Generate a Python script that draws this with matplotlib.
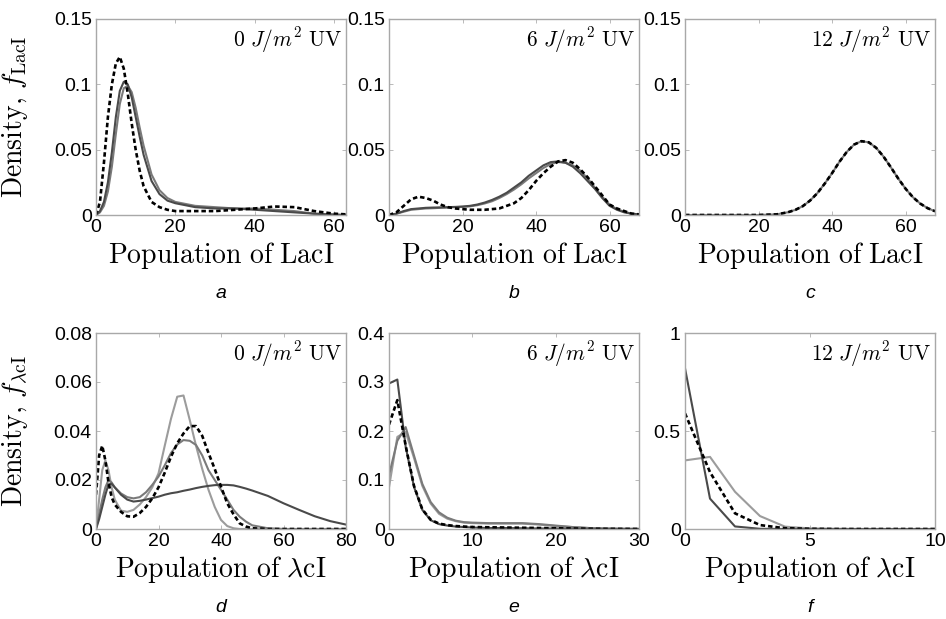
import matplotlib
matplotlib.use("Agg")
import matplotlib.pyplot as plt

plt.rcParams['mathtext.fontset'] = 'cm'
plt.rcParams['font.family'] = ['Liberation Sans', 'DejaVu Sans']

# --- panel a: LacI, 0 J/m2 UV
x_a = [0, 1, 2, 3, 4, 5, 6, 7, 8, 9, 10, 11, 12, 14, 16, 18, 20, 25, 30, 35, 40, 45, 50, 55, 60, 63]
a_dash = [0, 0.01, 0.04, 0.075, 0.1, 0.116, 0.121, 0.112, 0.093, 0.07, 0.05, 0.034, 0.022, 0.01,
          0.006, 0.004, 0.003, 0.003, 0.003, 0.004, 0.005, 0.0065, 0.006, 0.003, 0.001, 0.0005]
a_gray1 = [0, 0.003, 0.01, 0.025, 0.048, 0.075, 0.095, 0.102, 0.1, 0.09, 0.075, 0.06, 0.046, 0.026,
           0.016, 0.011, 0.009, 0.006, 0.005, 0.005, 0.004, 0.003, 0.002, 0.001, 0.0003, 0]
a_gray2 = [0, 0.002, 0.007, 0.018, 0.037, 0.062, 0.085, 0.097, 0.099, 0.094, 0.082, 0.067, 0.053, 0.031,
           0.019, 0.013, 0.01, 0.007, 0.006, 0.005, 0.005, 0.004, 0.003, 0.001, 0.0003, 0]

# --- panel b: LacI, 6 J/m2 UV
x_b = [0, 2, 4, 6, 8, 10, 12, 14, 16, 18, 20, 22, 24, 26, 28, 30, 32, 34, 36, 38, 40, 42, 44, 46, 48,
       50, 52, 54, 56, 58, 60, 62, 64, 66, 68]
b_dash = [0, 0.002, 0.007, 0.012, 0.014, 0.013, 0.011, 0.008, 0.006, 0.005, 0.0045, 0.004, 0.004, 0.004,
          0.0045, 0.005, 0.007, 0.009, 0.013, 0.019, 0.026, 0.032, 0.037, 0.041, 0.042, 0.040, 0.035,
          0.029, 0.022, 0.015, 0.008, 0.005, 0.003, 0.001, 0.0005]
b_gray1 = [0, 0.001, 0.003, 0.0045, 0.005, 0.0055, 0.0057, 0.0058, 0.006, 0.0062, 0.0065, 0.007, 0.008,
           0.0095, 0.0115, 0.014, 0.017, 0.021, 0.025, 0.030, 0.034, 0.038, 0.0405, 0.041, 0.040, 0.037,
           0.032, 0.026, 0.020, 0.013, 0.007, 0.004, 0.002, 0.001, 0.0005]
b_gray2 = [0, 0.001, 0.0025, 0.004, 0.0045, 0.005, 0.0052, 0.0055, 0.0057, 0.006, 0.0062, 0.0066, 0.0075,
           0.0088, 0.0105, 0.013, 0.016, 0.0195, 0.0235, 0.028, 0.032, 0.036, 0.039, 0.0405, 0.040, 0.038,
           0.034, 0.028, 0.021, 0.014, 0.008, 0.0045, 0.0025, 0.001, 0.0005]

# --- panel c: LacI, 12 J/m2 UV
x_c = [0, 10, 20, 25, 28, 30, 32, 34, 36, 38, 40, 42, 44, 46, 48, 50, 52, 54, 56, 58, 60, 62, 64, 66, 68]
c_dash = [0, 0, 0, 0.0005, 0.0021, 0.0039, 0.0067, 0.011, 0.0167, 0.024, 0.032, 0.0407, 0.0483, 0.0539,
          0.0565, 0.0556, 0.0514, 0.0447, 0.0365, 0.0279, 0.0201, 0.0136, 0.0087, 0.0052, 0.0029]
c_gray = c_dash

# --- panel d: lambda cI, 0 J/m2 UV
x_d = [0, 1, 2, 3, 4, 5, 6, 8, 10, 12, 14, 16, 18, 20, 22, 24, 26, 28, 30, 32, 34, 36, 38, 40, 42, 44,
       46, 48, 50, 55, 60, 65, 70, 75, 80]
d_dash = [0.014, 0.030, 0.034, 0.028, 0.019, 0.013, 0.010, 0.007, 0.0052, 0.005, 0.0065, 0.009, 0.0125,
          0.017, 0.023, 0.0295, 0.035, 0.039, 0.042, 0.042, 0.038, 0.031, 0.0245, 0.0173, 0.0105, 0.006,
          0.0023, 0.001, 0.0003, 0, 0, 0, 0, 0, 0]
d_light = [0, 0.012, 0.024, 0.028, 0.024, 0.017, 0.012, 0.0075, 0.007, 0.0078, 0.010, 0.013, 0.017,
           0.0227, 0.034, 0.045, 0.054, 0.0545, 0.0445, 0.034, 0.0245, 0.016, 0.009, 0.0037, 0.0012,
           0.0003, 0, 0, 0, 0, 0, 0, 0, 0, 0]
d_medium = [0, 0.006, 0.012, 0.017, 0.020, 0.019, 0.017, 0.0145, 0.013, 0.0125, 0.013, 0.015, 0.018,
            0.0214, 0.026, 0.031, 0.0345, 0.0363, 0.036, 0.0343, 0.030, 0.024, 0.020, 0.016, 0.012,
            0.0078, 0.005, 0.003, 0.0015, 0.0003, 0, 0, 0, 0, 0]
d_dark = [0, 0.004, 0.009, 0.014, 0.0182, 0.0185, 0.017, 0.014, 0.012, 0.0112, 0.0115, 0.012, 0.0126,
          0.0132, 0.014, 0.0146, 0.015, 0.0156, 0.0161, 0.0167, 0.0172, 0.0176, 0.0179, 0.018, 0.018,
          0.0178, 0.0172, 0.0165, 0.0157, 0.0135, 0.0105, 0.0078, 0.0052, 0.0032, 0.0018]

# --- panel e: lambda cI, 6 J/m2 UV
x_e = [0, 1, 2, 3, 4, 5, 6, 7, 8, 9, 10, 12, 14, 16, 18, 20, 22, 24, 26, 28, 30]
e_dark = [0.297, 0.305, 0.168, 0.086, 0.039, 0.018, 0.010, 0.007, 0.005, 0.004, 0.003, 0.002, 0.002,
          0.0015, 0.001, 0.001, 0.0005, 0, 0, 0, 0]
e_dash = [0.213, 0.263, 0.17, 0.088, 0.040, 0.019, 0.011, 0.008, 0.006, 0.005, 0.004, 0.0035, 0.003,
          0.0025, 0.002, 0.0015, 0.001, 0.0005, 0.0003, 0.0002, 0.0001]
e_light = [0.085, 0.188, 0.198, 0.145, 0.088, 0.052, 0.031, 0.021, 0.016, 0.013, 0.012, 0.011, 0.011,
           0.011, 0.009, 0.006, 0.004, 0.002, 0.001, 0.0005, 0.0002]
e_medium = [0.11, 0.18, 0.208, 0.15, 0.092, 0.055, 0.034, 0.023, 0.017, 0.014, 0.013, 0.012, 0.012,
            0.012, 0.010, 0.007, 0.004, 0.002, 0.001, 0.0005, 0.0002]

# --- panel f: lambda cI, 12 J/m2 UV
x_f = [0, 1, 2, 3, 4, 5, 6, 7, 8, 9, 10]
f_dark = [0.82, 0.155, 0.013, 0.001, 0, 0, 0, 0, 0, 0, 0]
f_dash = [0.59, 0.29, 0.08, 0.02, 0.004, 0.001, 0, 0, 0, 0, 0]
f_light = [0.35, 0.368, 0.19, 0.066, 0.012, 0.003, 0.001, 0, 0, 0, 0]

uv_doses = ['0', '6', '12']
letters = ['a', 'b', 'c', 'd', 'e', 'f']

LIGHT = '#9c9c9c'
MEDIUM = '#7a7a7a'
DARK = '#4a4a4a'
DASH = (0, (1.7, 1.1))

panels = [
    # (x, [(y, color, style)], xlim, xticks, ylim, yticks)
    (x_a, [(a_gray2, MEDIUM, '-'), (a_gray1, DARK, '-'), (a_dash, 'black', DASH)],
     63, [0, 20, 40, 60], 0.15, [0, 0.05, 0.1, 0.15]),
    (x_b, [(b_gray2, MEDIUM, '-'), (b_gray1, DARK, '-'), (b_dash, 'black', DASH)],
     68, [0, 20, 40, 60], 0.15, [0, 0.05, 0.1, 0.15]),
    (x_c, [(c_gray, MEDIUM, '-'), (c_dash, 'black', DASH)],
     68, [0, 20, 40, 60], 0.15, [0, 0.05, 0.1, 0.15]),
    (x_d, [(d_light, LIGHT, '-'), (d_medium, MEDIUM, '-'), (d_dark, DARK, '-'), (d_dash, 'black', DASH)],
     80, [0, 20, 40, 60, 80], 0.08, [0, 0.02, 0.04, 0.06, 0.08]),
    (x_e, [(e_light, LIGHT, '-'), (e_medium, MEDIUM, '-'), (e_dark, DARK, '-'), (e_dash, 'black', DASH)],
     30, [0, 10, 20, 30], 0.4, [0, 0.1, 0.2, 0.3, 0.4]),
    (x_f, [(f_light, LIGHT, '-'), (f_dark, DARK, '-'), (f_dash, 'black', DASH)],
     10, [0, 5, 10], 1.0, [0, 0.5, 1]),
]

fig = plt.figure(figsize=(9.46, 6.19), dpi=100)
W, H = 946.0, 619.0
lefts = [96, 389, 685]
tops = [19, 333]
aw, ah = 250, 196

for i, (xs, curves, xmax, xt, ymax, yt) in enumerate(panels):
    row, col = divmod(i, 3)
    l = lefts[col]
    t = tops[row]
    ax = fig.add_axes([l / W, 1 - (t + ah) / H, aw / W, ah / H])
    for ys, colr, ls in curves:
        lw = 1.9 if colr == 'black' else 1.5
        ax.plot(xs, ys, color=colr, linestyle=ls, linewidth=lw)
    ax.set_xlim(0, xmax)
    ax.set_ylim(0, ymax)
    ax.set_xticks(xt)
    ax.set_yticks(yt)
    ax.set_xticklabels([f'{v:g}' for v in xt])
    ax.set_yticklabels([f'{v:g}' for v in yt])
    ax.tick_params(direction='in', length=3, width=0.6, color='#b0b0b0',
                   top=True, right=True, labelsize=14, pad=3)
    for sp in ax.spines.values():
        sp.set_color('#a8a8a8')
        sp.set_linewidth(1.0)

    if row == 0:
        ax.set_xlabel(r'$\mathrm{Population\ of\ LacI}$', fontsize=20, labelpad=3)
    else:
        ax.set_xlabel(r'$\mathrm{Population\ of\ }\lambda\mathrm{cI}$', fontsize=20, labelpad=3)
    if col == 0:
        if row == 0:
            ax.set_ylabel(r'$\mathrm{Density,}\,f_{\mathrm{LacI}}$', fontsize=20)
        else:
            ax.set_ylabel(r'$\mathrm{Density,}\,f_{\lambda\mathrm{cI}}$', fontsize=20)
        ax.yaxis.set_label_coords(-0.265, 0.5)

    ax.text(0.985, 0.97, r'$%s\ J/m^2\ \mathrm{UV}$' % uv_doses[col], transform=ax.transAxes,
            ha='right', va='top', fontsize=15.5)

    fig.text((l + aw / 2) / W, 1 - (t + ah + 79) / H, letters[i], ha='center', va='center',
             fontsize=14, style='italic')

fig.savefig('out.png', dpi=100)
